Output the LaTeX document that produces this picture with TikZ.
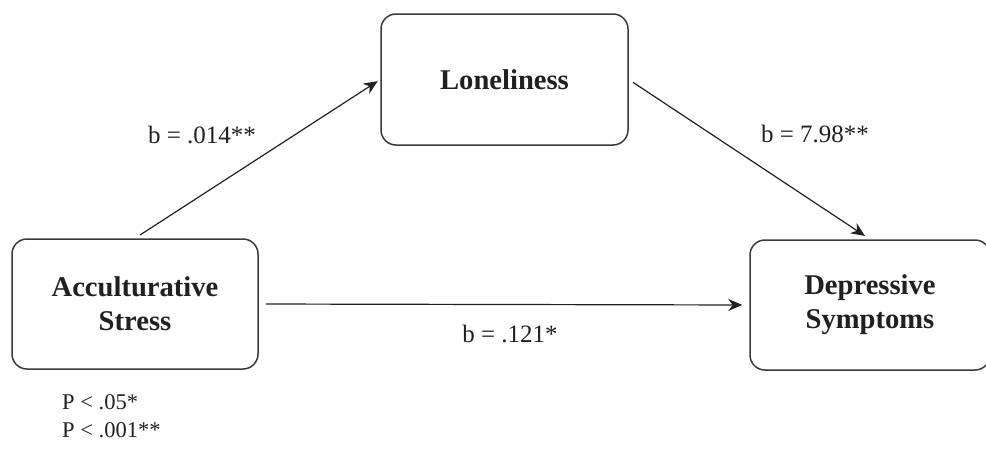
\documentclass[tikz,border=0pt]{standalone}
\usepackage{fontspec}
\setmainfont{Liberation Serif}
\usetikzlibrary{arrows.meta, positioning}
\definecolor{ink}{HTML}{231F20}
\definecolor{frame}{HTML}{3A3A3A}
\tikzset{
  >={Stealth[length=14pt, width=12pt]},
  %
  var/.style={
    draw=frame, line width=1.5pt, rounded corners=15pt, fill=white,
    align=center, text=ink, font=\fontsize{28.6}{34}\selectfont\bfseries,
  },
  %
  path/.style={draw=ink, line width=1.2pt, ->},
  %
  coef/.style={font=\fontsize{25}{30}\selectfont, text=ink, inner sep=0pt},
  note/.style={font=\fontsize{22.5}{28}\selectfont, text=ink, align=left,
               inner sep=0pt},
}
\begin{document}
\begin{tikzpicture}[x=1pt, y=-1pt]
  \useasboundingbox (0,0) rectangle (986,466);

  \node[var, minimum width=246pt, minimum height=130pt] (stress) at (135,304)
    {Acculturative\\Stress};
  \node[var, minimum width=247pt, minimum height=131pt] (lonely) at (504.5,79.5)
    {Loneliness};
  \node[var, minimum width=240pt, minimum height=130pt] (depress) at (870,305)
    {Depressive\\Symptoms};

  \draw[path, shorten <=6pt, shorten >=3pt] (stress.north) -- (lonely.west);
  \draw[path, shorten <=5pt, shorten >=6pt] (lonely.east) -- (depress.north);
  \draw[path, shorten <=7pt, shorten >=7pt] (stress.east) -- (depress.west);

  \node[coef] (a) at (202,135) {b = .014**};
  \node[coef] (b) at (815,134) {b = 7.98**};
  \node[coef] (c) at (510,334) {b = .121*};

  % significance levels
  \node[note, anchor=north west] (sig) at (62,394) {P < .05*\\P < .001**};

\end{tikzpicture}
\end{document}
